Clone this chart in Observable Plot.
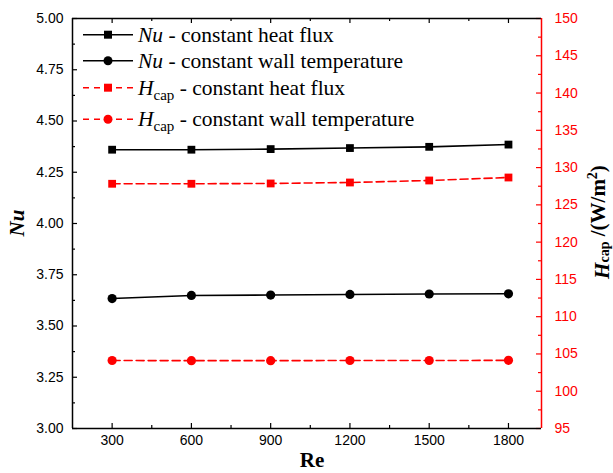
<!DOCTYPE html>
<html><head><meta charset="utf-8">
<script src="https://cdn.jsdelivr.net/npm/d3@7"></script>
<script src="https://cdn.jsdelivr.net/npm/@observablehq/plot@0.6"></script>
<style>body{margin:0;background:#fff} #chart{width:613px;height:473px}</style>
</head><body><div id="chart"></div>
<script>
// ---- data ----
const re = [300, 600, 900, 1200, 1500, 1800];
const nuHeatFlux = [4.360, 4.360, 4.363, 4.368, 4.374, 4.385];
const nuWallTemp = [3.634, 3.649, 3.651, 3.654, 3.656, 3.657];
const hcapHeatFlux = [127.83, 127.83, 127.87, 128.00, 128.27, 128.67];
const hcapWallTemp = [104.12, 104.10, 104.10, 104.12, 104.12, 104.14];
const xTicks = [300, 600, 900, 1200, 1500, 1800];
const nuTicks = [3.00, 3.25, 3.50, 3.75, 4.00, 4.25, 4.50, 4.75, 5.00];
const hTicks = [95, 100, 105, 110, 115, 120, 125, 130, 135, 140, 145, 150];
const seriesLabels = ["constant heat flux", "constant wall temperature", "constant heat flux", "constant wall temperature"];

// ---- layout ----
const W = 613, H = 473, mL = 72, mR = 72, mT = 18, mB = 45;
const plotW = W - mL - mR, plotH = H - mT - mB;
const xDomain = [150, 1925], nuDomain = [3, 5], hDomain = [95, 150];
const toNu = h => nuDomain[0] + (h - hDomain[0]) / (hDomain[1] - hDomain[0]) * (nuDomain[1] - nuDomain[0]);
const fromNu = v => hDomain[0] + (v - nuDomain[0]) / (nuDomain[1] - nuDomain[0]) * (hDomain[1] - hDomain[0]);
const nuMinor = d3.range(3.125, 5, 0.25);
const hMinor = d3.range(97.5, 150, 5);
const xMinor = d3.range(450, 1800, 300);

const RED = "#ff0000", BLK = "#000";
const rows = re.map((r, i) => ({re: r, nuHF: nuHeatFlux[i], nuWT: nuWallTemp[i], hHF: hcapHeatFlux[i], hWT: hcapWallTemp[i]}));
const dash = "8,4";

const chart = Plot.plot({
  width: W, height: H,
  marginLeft: mL, marginRight: mR, marginTop: mT, marginBottom: mB,
  style: {fontFamily: "'Liberation Sans', Arial, sans-serif", fontSize: "14px", background: "#fff", overflow: "visible"},
  x: {domain: xDomain},
  y: {domain: nuDomain},
  marks: [
    // inward ticks
    Plot.tickY(nuTicks, {y: d => d, insetRight: plotW - 5, stroke: BLK, strokeWidth: 1.2}),
    Plot.tickY(nuMinor, {y: d => d, insetRight: plotW - 3, stroke: BLK, strokeWidth: 1.2}),
    Plot.tickY(hTicks.map(toNu), {y: d => d, insetLeft: plotW - 5, stroke: RED, strokeWidth: 1.2}),
    Plot.tickY(hMinor.map(toNu), {y: d => d, insetLeft: plotW - 3, stroke: RED, strokeWidth: 1.2}),
    Plot.tickX(xTicks, {x: d => d, insetTop: plotH - 5, stroke: BLK, strokeWidth: 1.2}),
    Plot.tickX(xMinor, {x: d => d, insetTop: plotH - 3, stroke: BLK, strokeWidth: 1.2}),
    Plot.tickX(xTicks, {x: d => d, insetBottom: plotH - 5, stroke: BLK, strokeWidth: 1.2}),
    Plot.tickX(xMinor, {x: d => d, insetBottom: plotH - 3, stroke: BLK, strokeWidth: 1.2}),
    // frame
    Plot.ruleY([nuDomain[0]], {stroke: BLK, strokeWidth: 1.5}),
    Plot.ruleY([nuDomain[1]], {stroke: BLK, strokeWidth: 1.5}),
    Plot.ruleX([xDomain[0]], {stroke: BLK, strokeWidth: 1.5}),
    Plot.ruleX([xDomain[1]], {stroke: RED, strokeWidth: 1.5}),
    // axes labels
    Plot.axisX(xTicks, {anchor: "bottom", tickSize: 0, tickPadding: 7, fontSize: 14, tickFormat: d => String(d), label: null, color: BLK}),
    Plot.axisY(nuTicks, {anchor: "left", tickSize: 0, tickPadding: 9, fontSize: 14, tickFormat: d => d.toFixed(2), label: null, color: BLK}),
    Plot.axisY(hTicks.map(toNu), {anchor: "right", tickSize: 0, tickPadding: 13, fontSize: 14, tickFormat: d => String(Math.round(fromNu(d))), label: null, color: RED}),
    // series
    Plot.line(rows, {x: "re", y: "nuHF", stroke: BLK, strokeWidth: 1.6}),
    Plot.line(rows, {x: "re", y: "nuWT", stroke: BLK, strokeWidth: 1.6}),
    Plot.line(rows, {x: "re", y: d => toNu(d.hHF), stroke: RED, strokeWidth: 1.6, strokeDasharray: dash}),
    Plot.line(rows, {x: "re", y: d => toNu(d.hWT), stroke: RED, strokeWidth: 1.6, strokeDasharray: dash}),
    Plot.dot(rows, {x: "re", y: "nuHF", symbol: "square", r: 4.4, fill: BLK, stroke: "none"}),
    Plot.dot(rows, {x: "re", y: "nuWT", symbol: "circle", r: 4.6, fill: BLK, stroke: "none"}),
    Plot.dot(rows, {x: "re", y: d => toNu(d.hHF), symbol: "square", r: 4.4, fill: RED, stroke: "none"}),
    Plot.dot(rows, {x: "re", y: d => toNu(d.hWT), symbol: "circle", r: 4.6, fill: RED, stroke: "none"})
  ]
});
document.getElementById("chart").append(chart);

// ---- titles & legend ----
const svg = d3.select(chart);
const serif = "'Liberation Serif', 'Times New Roman', serif";

svg.append("text").attr("transform", "translate(24,223) rotate(-90)")
  .attr("text-anchor", "middle").attr("font-family", serif).attr("font-size", 21)
  .attr("font-weight", "bold").attr("font-style", "italic").attr("fill", BLK).text("Nu");

svg.append("text").attr("x", 312).attr("y", 467)
  .attr("text-anchor", "middle").attr("font-family", serif).attr("font-size", 21)
  .attr("font-weight", "bold").attr("fill", BLK).text("Re");

const rt = svg.append("text").attr("transform", "translate(605,222) rotate(-90)")
  .attr("text-anchor", "middle").attr("font-family", serif).attr("font-size", 21)
  .attr("font-weight", "bold").attr("fill", BLK);
rt.append("tspan").attr("font-style", "italic").attr("dy", 4).text("H");
rt.append("tspan").attr("font-size", 14).attr("dy", 0).text("cap");
rt.append("tspan").attr("dy", -4).text(" /(W/m");
rt.append("tspan").attr("font-size", 14).attr("dy", -8).text("2");
rt.append("tspan").attr("dy", 8).text(")");

const legendY = [34.7, 60.7, 87.7, 119.3];
const legendSpec = [
  {color: BLK, dash: null, sym: d3.symbolSquare, var: "Nu"},
  {color: BLK, dash: null, sym: d3.symbolCircle, var: "Nu"},
  {color: RED, dash: "6,5", sym: d3.symbolSquare, var: "H"},
  {color: RED, dash: "6,5", sym: d3.symbolCircle, var: "H"}
];
const lg = svg.append("g").attr("text-anchor", "start");
legendSpec.forEach((s, i) => {
  const y = legendY[i];
  const ln = lg.append("line").attr("x1", 83).attr("x2", 133).attr("y1", y).attr("y2", y)
    .attr("stroke", s.color).attr("stroke-width", 1.6);
  if (s.dash) ln.attr("stroke-dasharray", s.dash);
  lg.append("path").attr("transform", `translate(108,${y})`)
    .attr("d", d3.symbol(s.sym, Math.PI * 4.5 * 4.5)()).attr("fill", s.color);
  const t = lg.append("text").attr("x", 138).attr("y", y + 7).attr("text-anchor", "start")
    .attr("font-family", serif).attr("font-size", 21.5).attr("fill", BLK);
  if (s.var === "Nu") {
    t.append("tspan").attr("font-style", "italic").text("Nu");
    t.append("tspan").text(" - " + seriesLabels[i]);
  } else {
    t.append("tspan").attr("font-style", "italic").text("H");
    t.append("tspan").attr("font-size", 15).attr("dy", 5).text("cap");
    t.append("tspan").attr("dy", -5).text(" - " + seriesLabels[i]);
  }
});
</script>
</body></html>
